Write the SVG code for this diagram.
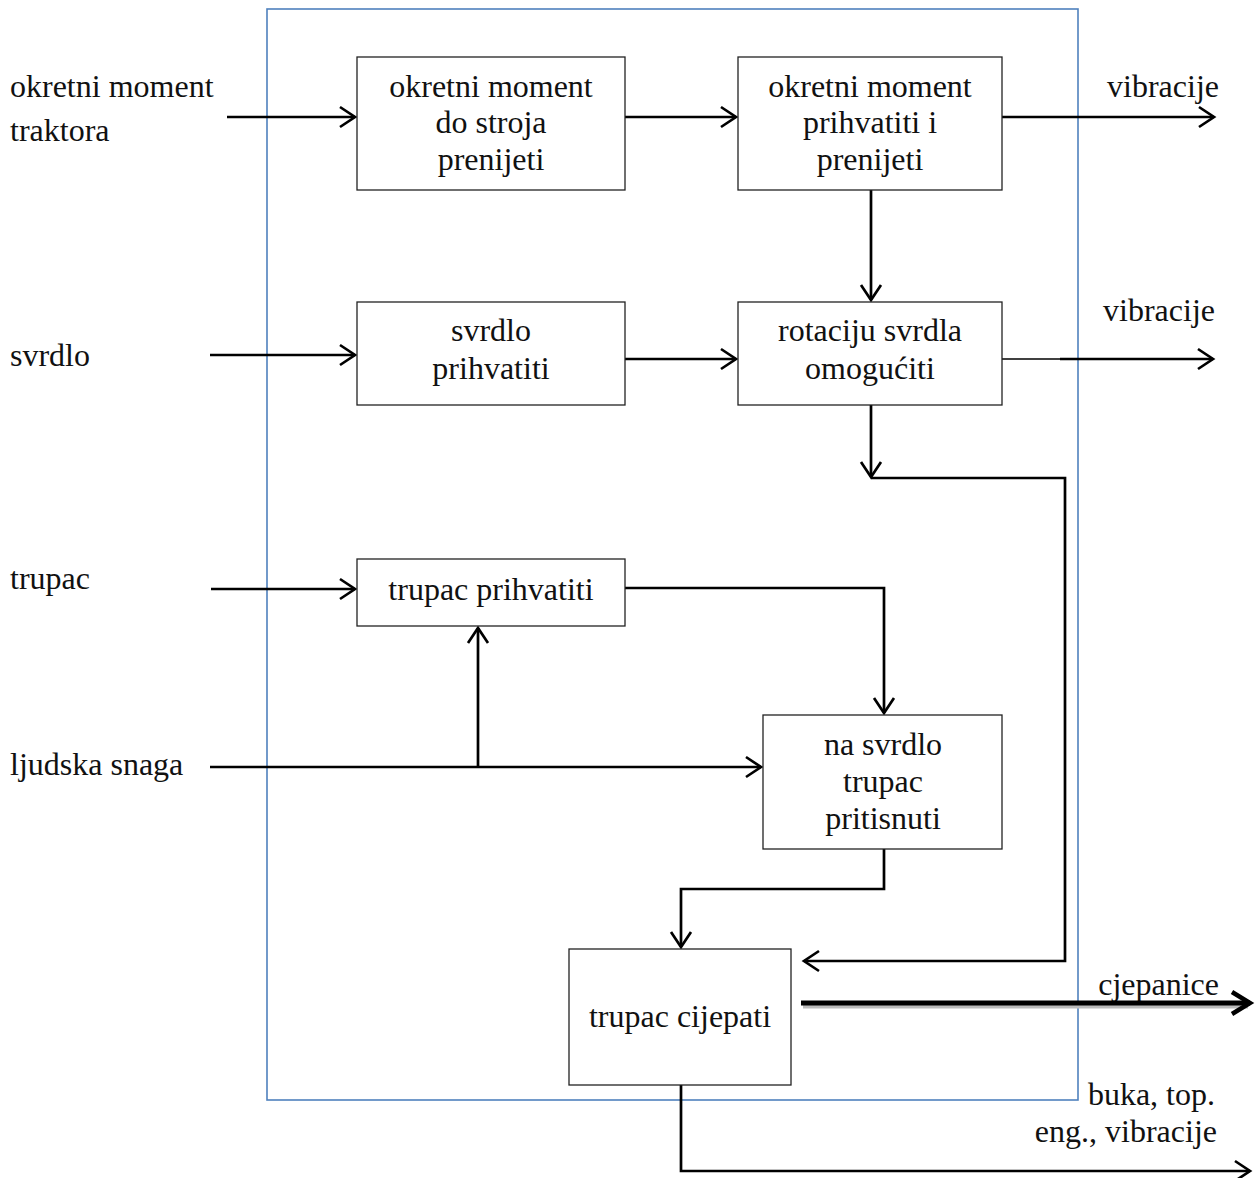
<svg xmlns="http://www.w3.org/2000/svg" width="1259" height="1178" viewBox="0 0 1259 1178">
<style>
text{font-family:"Liberation Serif","Times New Roman",serif;font-size:32px;fill:#111}
.c{text-anchor:middle}
.box{fill:#fff;stroke:#222;stroke-width:1.3}
.ln{fill:none;stroke:#000;stroke-width:2.7}
</style>
<defs>
<marker id="ah" markerUnits="userSpaceOnUse" markerWidth="24" markerHeight="26" refX="20" refY="12" orient="auto" viewBox="0 0 24 24">
<path d="M5,2 L20,12 L5,22" fill="none" stroke="#000" stroke-width="2.7"/>
</marker>
<marker id="ahb" markerUnits="userSpaceOnUse" markerWidth="30" markerHeight="30" refX="24" refY="15" orient="auto" viewBox="0 0 30 30">
<path d="M6,4 L24,15 L6,26" fill="none" stroke="#000" stroke-width="4.5"/>
</marker>
</defs>
<rect x="267" y="9" width="811" height="1091" fill="none" stroke="#4f81bd" stroke-width="1.6"/>
<g id="labels">
<text x="10" y="97">okretni moment</text>
<text x="10" y="141">traktora</text>
<text x="10" y="366">svrdlo</text>
<text x="10" y="589">trupac</text>
<text x="10" y="775">ljudska snaga</text>
<text x="1219" y="97" text-anchor="end">vibracije</text>
<text x="1215" y="321" text-anchor="end">vibracije</text>
<text x="1219" y="995" text-anchor="end">cjepanice</text>
<text x="1215" y="1105" text-anchor="end">buka, top.</text>
<text x="1217" y="1142" text-anchor="end">eng., vibracije</text>
</g>
<g id="connectors">
<line class="ln" x1="227" y1="117" x2="355" y2="117" marker-end="url(#ah)"/>
<line class="ln" x1="625" y1="117" x2="736" y2="117" marker-end="url(#ah)"/>
<line class="ln" x1="1000" y1="117" x2="1214" y2="117" marker-end="url(#ah)"/>
<line class="ln" x1="871" y1="190" x2="871" y2="300" marker-end="url(#ah)"/>
<line class="ln" x1="210" y1="355" x2="355" y2="355" marker-end="url(#ah)"/>
<line class="ln" x1="625" y1="359" x2="736" y2="359" marker-end="url(#ah)"/>
<line x1="1002" y1="359" x2="1062" y2="359" stroke="#000" stroke-width="1.5"/>
<line class="ln" x1="1060" y1="359" x2="1213" y2="359" marker-end="url(#ah)"/>
<line class="ln" x1="871" y1="405" x2="871" y2="477" marker-end="url(#ah)"/>
<polyline class="ln" points="871,478 1065,478 1065,961 804,961" marker-end="url(#ah)"/>
<line class="ln" x1="211" y1="589" x2="355" y2="589" marker-end="url(#ah)"/>
<polyline class="ln" points="625,588 884,588 884,713" marker-end="url(#ah)"/>
<line class="ln" x1="210" y1="767" x2="761" y2="767" marker-end="url(#ah)"/>
<line class="ln" x1="478" y1="767" x2="478" y2="628" marker-end="url(#ah)"/>
<polyline class="ln" points="884,849 884,889 681,889 681,947" marker-end="url(#ah)"/>
<line x1="803" y1="1006" x2="1248" y2="1006" stroke="#bbb" stroke-width="5"/>
<line x1="801" y1="1003" x2="1250" y2="1003" stroke="#000" stroke-width="5" marker-end="url(#ahb)"/>
<polyline class="ln" points="681,1085 681,1171 1250,1171" marker-end="url(#ah)"/>
</g>
<g id="n1"><rect class="box" x="357" y="57" width="268" height="133"/>
<text class="c" x="491" y="97">okretni moment</text><text class="c" x="491" y="133">do stroja</text><text class="c" x="491" y="170">prenijeti</text></g>
<g id="n2"><rect class="box" x="738" y="57" width="264" height="133"/>
<text class="c" x="870" y="97">okretni moment</text><text class="c" x="870" y="133">prihvatiti i</text><text class="c" x="870" y="170">prenijeti</text></g>
<g id="n3"><rect class="box" x="357" y="302" width="268" height="103"/>
<text class="c" x="491" y="341">svrdlo</text><text class="c" x="491" y="379">prihvatiti</text></g>
<g id="n4"><rect class="box" x="738" y="302" width="264" height="103"/>
<text class="c" x="870" y="341">rotaciju svrdla</text><text class="c" x="870" y="379">omogućiti</text></g>
<g id="n5"><rect class="box" x="357" y="559" width="268" height="67"/>
<text class="c" x="491" y="600">trupac prihvatiti</text></g>
<g id="n6"><rect class="box" x="763" y="715" width="239" height="134"/>
<text class="c" x="883" y="755">na svrdlo</text><text class="c" x="883" y="792">trupac</text><text class="c" x="883" y="829">pritisnuti</text></g>
<g id="n7"><rect class="box" x="569" y="949" width="222" height="136"/>
<text class="c" x="680" y="1027">trupac cijepati</text></g>
</svg>
